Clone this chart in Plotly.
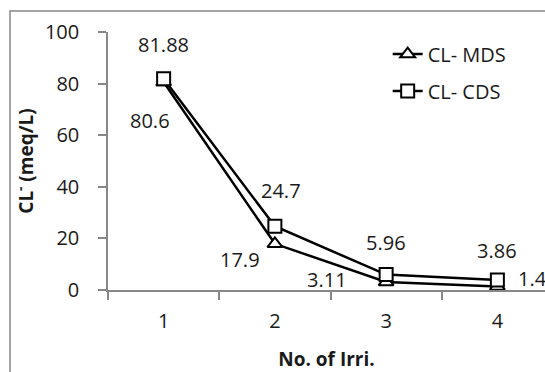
import plotly.graph_objects as go

# ---- data ----
categories = ["1", "2", "3", "4"]
mds_values = [80.6, 17.9, 3.11, 1.4]
cds_values = [81.88, 24.7, 5.96, 3.86]
mds_labels = ["80.6", "17.9", "3.11", "1.4"]
cds_labels = ["81.88", "24.7", "5.96", "3.86"]
y_ticks = [0, 20, 40, 60, 80, 100]

# label offsets (pixels) – style only
mds_offsets = [(-14, -38), (-35, -16), (-59, 2), (35, 8)]
cds_offsets = [(0, 34), (6, 36), (0, 32), (0, 30)]

FONT = "Open Sans"
AX = "#878787"

fig = go.Figure()
fig.add_trace(go.Scatter(
    x=categories, y=mds_values, name="CL- MDS", mode="lines+markers",
    line=dict(color="black", width=2.5),
    marker=dict(symbol="triangle-up", size=13, color="white",
                line=dict(color="black", width=2)),
    legendgroup="a", cliponaxis=False,
))
fig.add_trace(go.Scatter(
    x=categories, y=cds_values, name="CL- CDS", mode="lines+markers",
    line=dict(color="black", width=2.5),
    marker=dict(symbol="square", size=13, color="white",
                line=dict(color="black", width=2)),
    legendgroup="b", cliponaxis=False,
))

annotations = []
for i, (val, lab, (dx, dy)) in enumerate(zip(mds_values, mds_labels, mds_offsets)):
    annotations.append(dict(x=i, y=val, text=lab, showarrow=False,
                            xshift=dx, yshift=dy,
                            font=dict(family=FONT, size=20, color="#1a1a1a")))
for i, (val, lab, (dx, dy)) in enumerate(zip(cds_values, cds_labels, cds_offsets)):
    annotations.append(dict(x=i, y=val, text=lab, showarrow=False,
                            xshift=dx, yshift=dy,
                            font=dict(family=FONT, size=20, color="#1a1a1a")))

fig.update_layout(
    width=545, height=372,
    margin=dict(l=108, r=0, t=32, b=82),
    paper_bgcolor="white", plot_bgcolor="white",
    font=dict(family=FONT, size=20, color="#1a1a1a"),
    showlegend=True,
    legend=dict(x=0.64, y=0.99, xanchor="left", yanchor="top",
                bgcolor="rgba(0,0,0,0)", traceorder="grouped",
                tracegroupgap=8, font=dict(family=FONT, size=20)),
    annotations=annotations,
    shapes=[dict(type="rect", xref="paper", yref="paper",
                 x0=-0.2243, x1=1.2, y0=-0.7, y1=1.081,
                 line=dict(color=AX, width=1.5), layer="below")],
)
fig.update_xaxes(
    type="category", range=[-0.5, 3.428], tickson="boundaries",
    ticks="outside", ticklen=8, tickcolor=AX, tickwidth=1.5,
    showline=True, linecolor=AX, linewidth=1.5, showgrid=False,
    tickfont=dict(family=FONT, size=20), ticklabelstandoff=12,
    title=dict(text="<b>No. of Irri.</b>", font=dict(family=FONT, size=19),
               standoff=25),
)
fig.update_yaxes(
    range=[0, 100], tickvals=y_ticks, ticks="outside", ticklen=8,
    tickcolor=AX, tickwidth=1.5, showline=True, linecolor=AX, linewidth=1.5,
    showgrid=False, zeroline=False,
    tickfont=dict(family=FONT, size=20), ticklabelstandoff=15,
    title=dict(text="<b>CL<sup>-</sup> (meq/L)</b>",
               font=dict(family=FONT, size=19), standoff=6),
)

fig.write_html("out.html")
